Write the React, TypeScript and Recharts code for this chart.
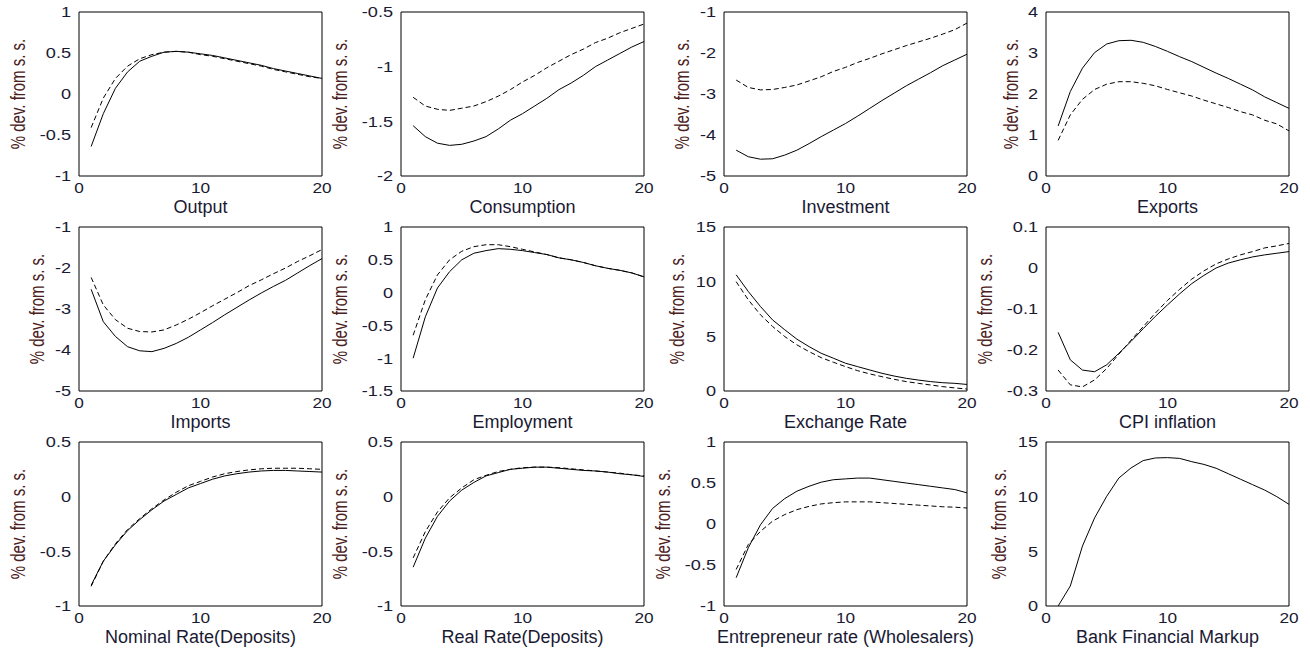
import React from 'react'
import { LineChart, Line, XAxis, YAxis, Label } from 'recharts'

// quarters after the shock
const periods = [1, 2, 3, 4, 5, 6, 7, 8, 9, 10, 11, 12, 13, 14, 15, 16, 17, 18, 19, 20]
const xTicks = [0, 10, 20]

// solid = baseline, dashed = alternative
const outputSolid = [-0.64, -0.24, 0.07, 0.27, 0.4, 0.46, 0.51, 0.52, 0.51, 0.49, 0.47, 0.44, 0.41, 0.38, 0.35, 0.31, 0.28, 0.25, 0.22, 0.19]
const outputDashed = [-0.41, -0.05, 0.19, 0.34, 0.43, 0.48, 0.51, 0.52, 0.51, 0.48, 0.46, 0.43, 0.4, 0.37, 0.34, 0.3, 0.27, 0.24, 0.21, 0.19]
const consSolid = [-1.54, -1.64, -1.7, -1.72, -1.71, -1.68, -1.64, -1.57, -1.49, -1.43, -1.36, -1.29, -1.21, -1.15, -1.08, -1.0, -0.94, -0.88, -0.82, -0.77]
const consDashed = [-1.28, -1.36, -1.39, -1.4, -1.38, -1.36, -1.32, -1.27, -1.21, -1.14, -1.08, -1.01, -0.95, -0.89, -0.84, -0.78, -0.74, -0.69, -0.65, -0.61]
const invSolid = [-4.37, -4.53, -4.59, -4.58, -4.49, -4.37, -4.21, -4.04, -3.88, -3.72, -3.54, -3.35, -3.16, -2.98, -2.8, -2.64, -2.48, -2.31, -2.17, -2.03]
const invDashed = [-2.66, -2.84, -2.9, -2.89, -2.84, -2.78, -2.68, -2.58, -2.45, -2.35, -2.23, -2.13, -2.02, -1.92, -1.82, -1.73, -1.64, -1.54, -1.43, -1.27]
const expSolid = [1.22, 2.06, 2.63, 3.01, 3.22, 3.3, 3.31, 3.26, 3.16, 3.04, 2.91, 2.79, 2.65, 2.51, 2.38, 2.24, 2.1, 1.93, 1.79, 1.65]
const expDashed = [0.87, 1.49, 1.87, 2.11, 2.24, 2.3, 2.3, 2.26, 2.2, 2.11, 2.03, 1.95, 1.85, 1.76, 1.67, 1.57, 1.49, 1.36, 1.27, 1.1]
const impSolid = [-2.52, -3.31, -3.67, -3.92, -4.02, -4.04, -3.96, -3.84, -3.69, -3.51, -3.33, -3.14, -2.96, -2.78, -2.61, -2.45, -2.3, -2.12, -1.94, -1.77]
const impDashed = [-2.23, -2.9, -3.26, -3.47, -3.55, -3.56, -3.51, -3.39, -3.25, -3.09, -2.92, -2.76, -2.6, -2.43, -2.29, -2.14, -2.0, -1.84, -1.7, -1.55]
const empSolid = [-1.0, -0.37, 0.07, 0.32, 0.5, 0.6, 0.64, 0.67, 0.66, 0.64, 0.61, 0.58, 0.53, 0.5, 0.46, 0.41, 0.37, 0.34, 0.3, 0.24]
const empDashed = [-0.65, -0.11, 0.27, 0.5, 0.63, 0.7, 0.73, 0.73, 0.7, 0.66, 0.62, 0.58, 0.53, 0.5, 0.46, 0.41, 0.37, 0.34, 0.3, 0.24]
const fxSolid = [10.63, 9.1, 7.73, 6.5, 5.6, 4.74, 4.06, 3.45, 3.0, 2.54, 2.23, 1.92, 1.62, 1.37, 1.16, 1.0, 0.86, 0.76, 0.7, 0.6]
const fxDashed = [10.0, 8.34, 6.97, 5.9, 4.98, 4.22, 3.6, 3.05, 2.63, 2.23, 1.86, 1.56, 1.31, 1.07, 0.86, 0.7, 0.55, 0.4, 0.28, 0.18]
const cpiSolid = [-0.157, -0.224, -0.249, -0.253, -0.236, -0.208, -0.179, -0.148, -0.118, -0.09, -0.063, -0.038, -0.018, 0.0, 0.012, 0.02, 0.027, 0.032, 0.036, 0.04]
const cpiDashed = [-0.249, -0.285, -0.29, -0.273, -0.245, -0.21, -0.176, -0.143, -0.11, -0.079, -0.052, -0.027, -0.007, 0.01, 0.022, 0.032, 0.04, 0.049, 0.054, 0.06]
const nomSolid = [-0.81, -0.59, -0.44, -0.31, -0.21, -0.12, -0.04, 0.02, 0.08, 0.12, 0.16, 0.19, 0.21, 0.225, 0.235, 0.24, 0.24, 0.235, 0.23, 0.225]
const nomDashed = [-0.82, -0.59, -0.43, -0.3, -0.2, -0.11, -0.03, 0.04, 0.1, 0.14, 0.18, 0.21, 0.23, 0.245, 0.255, 0.26, 0.26, 0.26, 0.255, 0.25]
const realSolid = [-0.645, -0.38, -0.18, -0.04, 0.06, 0.13, 0.19, 0.22, 0.25, 0.26, 0.27, 0.27, 0.26, 0.25, 0.24, 0.235, 0.225, 0.21, 0.2, 0.185]
const realDashed = [-0.56, -0.32, -0.14, -0.01, 0.08, 0.155, 0.195, 0.23, 0.25, 0.265, 0.27, 0.27, 0.265, 0.255, 0.245, 0.235, 0.225, 0.215, 0.2, 0.19]
const entSolid = [-0.655, -0.29, -0.01, 0.19, 0.31, 0.4, 0.46, 0.51, 0.54, 0.55, 0.56, 0.56, 0.54, 0.52, 0.5, 0.48, 0.46, 0.44, 0.42, 0.38]
const entDashed = [-0.555, -0.25, -0.09, 0.035, 0.115, 0.175, 0.215, 0.245, 0.26, 0.27, 0.27, 0.27, 0.26, 0.25, 0.24, 0.23, 0.22, 0.21, 0.205, 0.195]
const markupSolid = [0.0, 1.83, 5.48, 8.06, 10.04, 11.71, 12.63, 13.3, 13.54, 13.57, 13.5, 13.2, 12.95, 12.6, 12.1, 11.6, 11.1, 10.6, 10.0, 9.3]

const titles = ['Output', 'Consumption', 'Investment', 'Exports', 'Imports', 'Employment', 'Exchange Rate', 'CPI inflation', 'Nominal Rate(Deposits)', 'Real Rate(Deposits)', 'Entrepreneur rate (Wholesalers)', 'Bank Financial Markup']
const solids = [outputSolid, consSolid, invSolid, expSolid, impSolid, empSolid, fxSolid, cpiSolid, nomSolid, realSolid, entSolid, markupSolid]
const dashes = [outputDashed, consDashed, invDashed, expDashed, impDashed, empDashed, fxDashed, cpiDashed, nomDashed, realDashed, entDashed, null]
const yTicks = [
  [-1, -0.5, 0, 0.5, 1],
  [-2, -1.5, -1, -0.5],
  [-5, -4, -3, -2, -1],
  [0, 1, 2, 3, 4],
  [-5, -4, -3, -2, -1],
  [-1.5, -1, -0.5, 0, 0.5, 1],
  [0, 5, 10, 15],
  [-0.3, -0.2, -0.1, 0, 0.1],
  [-1, -0.5, 0, 0.5],
  [-1, -0.5, 0, 0.5],
  [-1, -0.5, 0, 0.5, 1],
  [0, 5, 10, 15],
]

const yLabel = '% dev. from s. s.'
const FONT = 'Arial, "Liberation Sans", Helvetica, sans-serif'
const TXT = '#1a1a33'
const colLeft = [0, 322, 645, 967]
const rowTop = [0, 215, 430]

// rough width of a tick label in em (Arial metrics)
function labelEm(s: string) {
  let w = 0
  for (const c of s) w += c === '-' ? 0.333 : c === '.' ? 0.278 : 0.556
  return w
}

const YTick = (p: any) => (
  <text transform={`translate(${p.x},${p.y}) scale(1.25,1)`} textAnchor="end" dominantBaseline="central"
    fontSize={14.5} fontFamily={FONT} fill={TXT}>{p.payload.value}</text>
)

const XTick = (p: any) => (
  <text transform={`translate(${p.x},${p.y}) scale(1.15,1)`} textAnchor="middle" dy="0.71em"
    fontSize={15} fontFamily={FONT} fill={TXT}>{p.payload.value}</text>
)

function Panel({ i }: { i: number }) {
  const ticks = yTicks[i]
  const domain = [ticks[0], ticks[ticks.length - 1]]
  const solid = solids[i]
  const dashed = dashes[i]
  const data = periods.map((t, k) => ({ t, s: solid[k], d: dashed ? dashed[k] : null }))
  const widest = Math.max(...ticks.map((v) => labelEm(String(v))))
  const labelDist = 22 + widest * 22.5

  return (
    <div style={{ position: 'absolute', left: colLeft[i % 4], top: rowTop[Math.floor(i / 4)] }}>
      <LineChart width={332} height={224} data={data} margin={{ top: 12, right: 10, bottom: 0, left: 0 }}>
        <XAxis xAxisId="b" dataKey="t" type="number" domain={[0, 20]} ticks={xTicks} allowDataOverflow
          height={48} tickSize={0} tickMargin={6} tickLine={false} axisLine={{ stroke: '#000' }} tick={<XTick />}>
          <Label content={(lp: any) => (
            <text x={lp.viewBox.x + lp.viewBox.width / 2} y={lp.viewBox.y + 37} textAnchor="middle"
              fontSize={18} fontFamily={FONT} fill={TXT}>{titles[i]}</text>
          )} />
        </XAxis>
        <XAxis xAxisId="bm" type="number" domain={[0, 20]} ticks={xTicks} allowDataOverflow mirror
          tick={false} tickSize={4} tickLine={{ stroke: '#000' }} axisLine={false} />
        <XAxis xAxisId="tm" orientation="top" type="number" domain={[0, 20]} ticks={xTicks} allowDataOverflow mirror
          tick={false} tickSize={4} tickLine={{ stroke: '#000' }} axisLine={{ stroke: '#000' }} />
        <YAxis yAxisId="l" type="number" domain={domain} ticks={ticks} allowDataOverflow width={79}
          tickSize={0} tickMargin={8} tickLine={false} axisLine={{ stroke: '#000' }} tick={<YTick />}>
          <Label content={(lp: any) => {
            const cx = lp.viewBox.x + lp.viewBox.width - labelDist
            const cy = lp.viewBox.y + lp.viewBox.height / 2
            return (
              <text x={0} y={0} transform={`translate(${cx},${cy}) scale(1.3,1) rotate(-90)`} textAnchor="middle"
                dominantBaseline="central" fontSize={15} fontFamily={FONT} fill="#4a2020">{yLabel}</text>
            )
          }} />
        </YAxis>
        <YAxis yAxisId="lm" type="number" domain={domain} ticks={ticks} allowDataOverflow mirror
          tick={false} tickSize={4} tickLine={{ stroke: '#000' }} axisLine={false} />
        <YAxis yAxisId="rm" orientation="right" type="number" domain={domain} ticks={ticks} allowDataOverflow mirror
          tick={false} tickSize={4} tickLine={{ stroke: '#000' }} axisLine={{ stroke: '#000' }} />
        {dashed && (
          <Line xAxisId="b" yAxisId="l" dataKey="d" type="linear" stroke="#000" strokeWidth={1}
            strokeDasharray="5 3" dot={false} isAnimationActive={false} />
        )}
        <Line xAxisId="b" yAxisId="l" dataKey="s" type="linear" stroke="#000" strokeWidth={1}
          dot={false} isAnimationActive={false} />
      </LineChart>
    </div>
  )
}

export default function App() {
  return (
    <div style={{ position: 'absolute', left: 0, top: 0, width: 1310, height: 652, background: '#fff', overflow: 'hidden' }}>
      {titles.map((_, i) => <Panel key={i} i={i} />)}
    </div>
  )
}
